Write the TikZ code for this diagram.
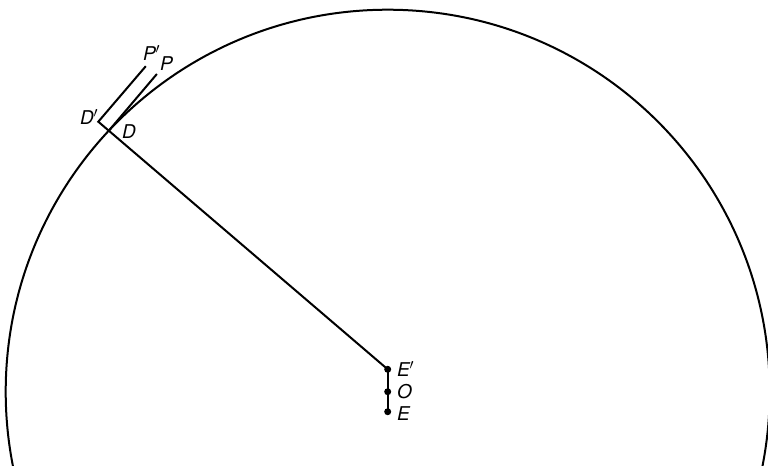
\documentclass[tikz,border=0pt]{standalone}
\usepackage{fontspec}
\setmainfont{TeX Gyre Heros}
\begin{document}
\begin{tikzpicture}[x=1pt,y=-1pt,line width=2pt,
  lbl/.style={font=\fontsize{19}{19}\selectfont\itshape,inner sep=0pt,anchor=base west},
  dot/.style={circle,fill=black,inner sep=0pt,minimum size=7pt}]
\useasboundingbox (0,0) rectangle (768,467);
% points
\coordinate (O) at (387.7,391.7);
\coordinate (Ep) at (387.7,369.3);
\coordinate (E) at (387.7,411.7);
\coordinate (D) at (108.8,130.7);
\coordinate (Dp) at (98.3,121.7);
\coordinate (Pp) at (145.8,66.2);
\coordinate (P) at (156.9,74.0);
% circle
\begin{scope}
\clip (0,0) rectangle (768,465);
\draw (O) circle[radius=382pt];
\end{scope}
% lines
\draw[line join=miter] (Ep) -- (Dp) -- (Pp);
\draw (D) -- (P);
\draw (Ep) -- (E);
% dots
\node[dot] (nEp) at (Ep) {};
\node[dot] (nO) at (O) {};
\node[dot] (nE) at (E) {};
% labels
\node[lbl] (lPp) at (142,60) {P$'$};
\node[lbl] (lP) at (159,70) {P};
\node[lbl] (lDp) at (79,124) {D$'$};
\node[lbl] (lD) at (121,138) {D};
\node[lbl] (lEp) at (396,376) {E$'$};
\node[lbl] (lO) at (396,398) {O};
\node[lbl] (lE) at (396,420) {E};
\end{tikzpicture}
\end{document}
